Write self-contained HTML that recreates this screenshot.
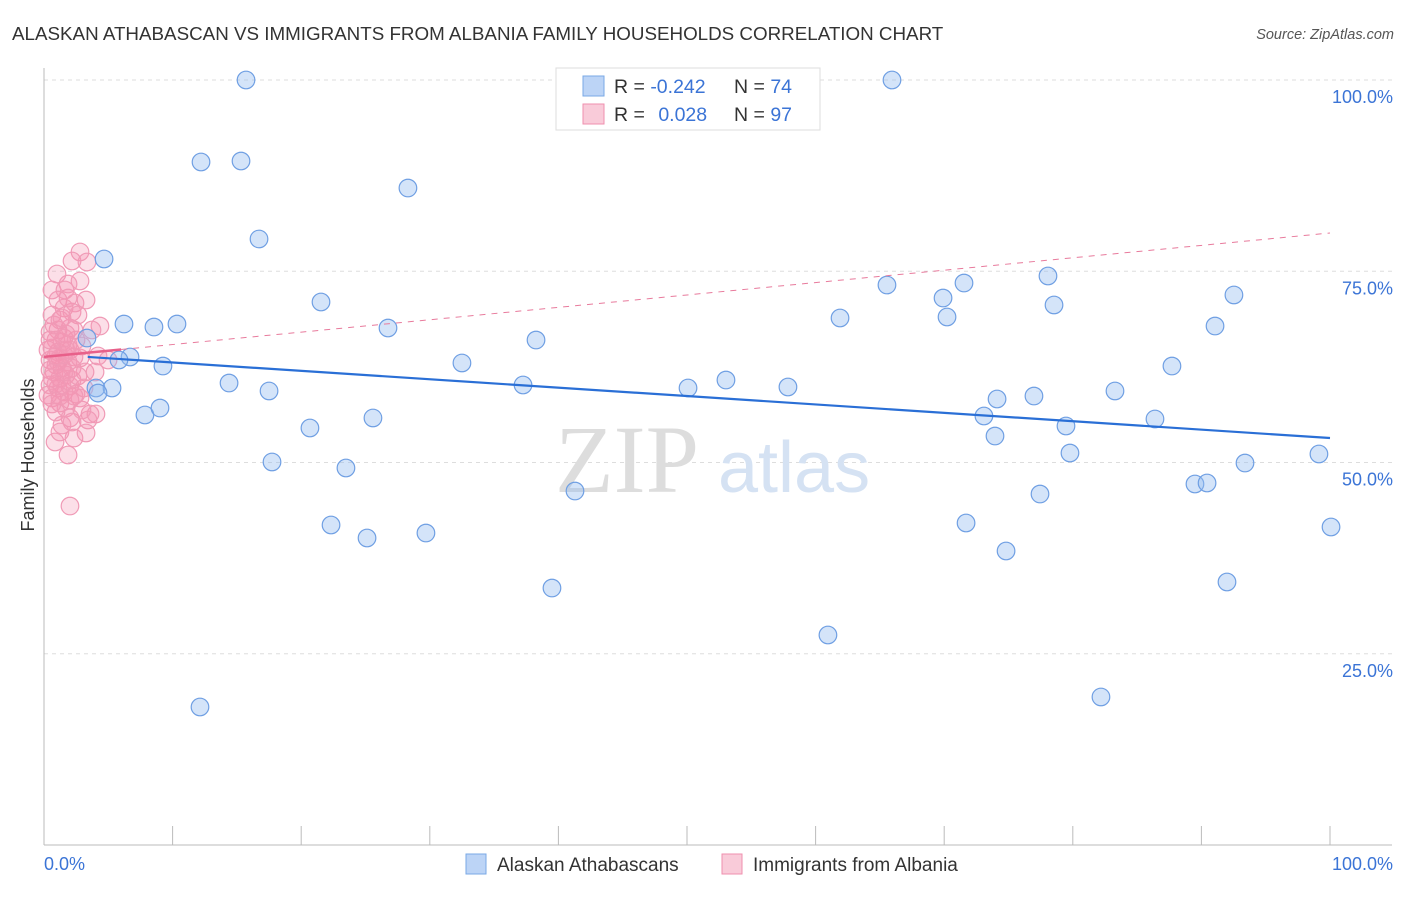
<!DOCTYPE html>
<html><head><meta charset="utf-8"><style>
body{margin:0;background:#fff;font-family:"Liberation Sans",sans-serif}
svg text{font-family:"Liberation Sans",sans-serif}
</style></head><body>
<svg width="1406" height="892">
<text x="12" y="40" font-size="18.8" fill="#333">ALASKAN ATHABASCAN VS IMMIGRANTS FROM ALBANIA FAMILY HOUSEHOLDS CORRELATION CHART</text>
<text x="1394" y="39" font-size="14.5" fill="#555" font-style="italic" text-anchor="end">Source: ZipAtlas.com</text>
<g id="grid"></g>
<text x="555" y="492" font-size="96" fill="#ddd" font-family="Liberation Serif" style="font-family:'Liberation Serif',serif">ZIP</text>
<text x="718" y="492" font-size="72" fill="#d5e2f3">atlas</text>
<g id="axes"></g>
<g id="pts"></g>
<g id="trend"></g>
<text transform="translate(34,455) rotate(-90)" font-size="18" fill="#333" text-anchor="middle">Family Households</text>
<text x="44" y="870" font-size="18" fill="#3b74d6">0.0%</text>
<text x="1393" y="870" font-size="18" fill="#3b74d6" text-anchor="end">100.0%</text>
<g>
<rect x="556" y="68" width="264" height="62" fill="#fff" stroke="#ddd"/>
<rect x="583" y="76" width="21" height="20" fill="#bcd4f6" stroke="#7aa8e6"/>
<rect x="583" y="104" width="21" height="20" fill="#f9cbd9" stroke="#ef8fae"/>
<text x="614" y="93" font-size="19.5" fill="#333">R = <tspan fill="#3b74d6">-0.242</tspan></text>
<text x="734" y="93" font-size="19.5" fill="#333">N = <tspan fill="#3b74d6">74</tspan></text>
<text x="614" y="121" font-size="19.5" fill="#333">R = <tspan fill="#3b74d6" dx="8">0.028</tspan></text>
<text x="734" y="121" font-size="19.5" fill="#333">N = <tspan fill="#3b74d6">97</tspan></text>
</g>
<g>
<rect x="466" y="854" width="20" height="20" fill="#bcd4f6" stroke="#7aa8e6"/>
<text x="497" y="871" font-size="19" fill="#333">Alaskan Athabascans</text>
<rect x="722" y="854" width="20" height="20" fill="#f9cbd9" stroke="#ef8fae"/>
<text x="753" y="871" font-size="19" fill="#333">Immigrants from Albania</text>
</g>
</svg>
<script>
const yTicks=[25,50,75,100];
const yTickLabels=["25.0%","50.0%","75.0%","100.0%"];
const xTicks=[0,10,20,30,40,50,60,70,80,90,100];
const bluePx=[[246,80],[892,80],[201,162],[241,161],[408,188],[259,239],[104,259],[321,302],[124,324],[154,327],[177,324],[388,328],[536,340],[87,338],[130,357],[119,360],[163,366],[462,363],[229,383],[269,391],[96,388],[112,388],[98,393],[523,385],[688,388],[726,380],[788,387],[145,415],[160,408],[310,428],[373,418],[272,462],[346,468],[575,491],[331,525],[367,538],[426,533],[552,588],[828,635],[200,707],[887,285],[943,298],[964,283],[947,317],[840,318],[1048,276],[1054,305],[1234,295],[1215,326],[1172,366],[1115,391],[1034,396],[997,399],[984,416],[995,436],[1066,426],[1070,453],[1155,419],[1245,463],[1319,454],[1195,484],[1207,483],[1040,494],[966,523],[1006,551],[1227,582],[1101,697],[1331,527]];
const pinkPx=[[80,252],[72,261],[87,262],[57,274],[80,281],[68,284],[52,290],[65,290],[58,300],[75,303],[64,308],[72,312],[78,315],[52,315],[60,320],[58,330],[70,328],[50,332],[100,326],[56,340],[62,342],[68,345],[52,348],[58,352],[64,355],[70,350],[74,357],[50,360],[56,365],[62,368],[68,362],[80,358],[108,360],[54,372],[60,378],[66,375],[72,380],[85,372],[50,385],[58,388],[64,392],[70,386],[76,394],[52,398],[60,403],[66,408],[56,412],[70,418],[90,414],[96,414],[62,425],[72,422],[88,420],[74,438],[86,433],[55,442],[68,455],[80,398],[95,372],[48,350],[50,370],[48,395],[52,404],[62,385],[54,325],[76,340],[82,346],[92,330],[66,334],[60,358],[58,362],[52,378],[66,350],[72,368],[78,376],[84,388],[60,396],[70,400],[64,338],[56,356],[50,340],[74,330],[62,318],[68,298],[86,300],[98,356],[70,506],[74,396],[82,410],[60,432],[64,372],[56,384]];
const blueX=bluePx.map(p=>+((p[0]-44)/12.86).toFixed(2));
const blueY=bluePx.map(p=>+((845-p[1])/7.65).toFixed(2));
const pinkX=pinkPx.map(p=>+((p[0]-44)/12.86).toFixed(2));
const pinkY=pinkPx.map(p=>+((845-p[1])/7.65).toFixed(2));
const blueTrend=[[3.4,63.8],[100,53.2]];
const pinkTrend=[[0,63.8],[100,80.0]];
const pinkSolidEnd=6;
const X=v=>44+v*12.86, Y=v=>845-v*7.65;
const NS="http://www.w3.org/2000/svg";
function mk(t,a,p){const e=document.createElementNS(NS,t);for(const k in a)e.setAttribute(k,a[k]);p.appendChild(e);return e;}
const grid=document.getElementById('grid');
yTicks.forEach((t,i)=>{
 const l=mk('line',{x1:44,x2:1392,y1:Y(t),y2:Y(t),stroke:'#ddd','stroke-dasharray':'4,4'},grid);
 
 
 const tx=mk('text',{x:1393,y:Y(t)+23,'font-size':18,fill:'#3b74d6','text-anchor':'end'},grid);
 tx.textContent=yTickLabels[i];
 
 
});
const ax=document.getElementById('axes');
let a1=mk('line',{x1:44,x2:44,y1:68,y2:845,stroke:'#bbb'},ax);


let a2=mk('line',{x1:44,x2:1392,y1:845,y2:845,stroke:'#bbb'},ax);


xTicks.forEach(t=>{
 const l=mk('line',{x1:X(t),x2:X(t),y1:826,y2:845,stroke:'#bbb'},ax);
 
 
});
const pts=document.getElementById('pts');
pinkX.forEach((x,i)=>{
 const c=mk('circle',{cx:X(x),cy:Y(pinkY[i]),r:8.8,fill:'rgba(244,150,180,0.3)',stroke:'#f09ab6','stroke-width':1.2},pts);
 
 
});
blueX.forEach((x,i)=>{
 const c=mk('circle',{cx:X(x),cy:Y(blueY[i]),r:8.8,fill:'rgba(147,187,240,0.4)',stroke:'#6f9fe3','stroke-width':1.2},pts);
 
 
});
const tr=document.getElementById('trend');
const pv=x=>pinkTrend[0][1]+(pinkTrend[1][1]-pinkTrend[0][1])*(x-pinkTrend[0][0])/(pinkTrend[1][0]-pinkTrend[0][0]);
let d=mk('line',{x1:X(pinkSolidEnd),y1:Y(pv(pinkSolidEnd)),x2:X(pinkTrend[1][0]),y2:Y(pinkTrend[1][1]),stroke:'#e87a9c','stroke-width':1,'stroke-dasharray':'6,6'},tr);


let s=mk('line',{x1:X(pinkTrend[0][0]),y1:Y(pinkTrend[0][1]),x2:X(pinkSolidEnd),y2:Y(pv(pinkSolidEnd)),stroke:'#e8608a','stroke-width':2.5},tr);


let b=mk('line',{x1:X(blueTrend[0][0]),y1:Y(blueTrend[0][1]),x2:X(blueTrend[1][0]),y2:Y(blueTrend[1][1]),stroke:'#2a6fd6','stroke-width':2.2},tr);


</script>
</body></html>
